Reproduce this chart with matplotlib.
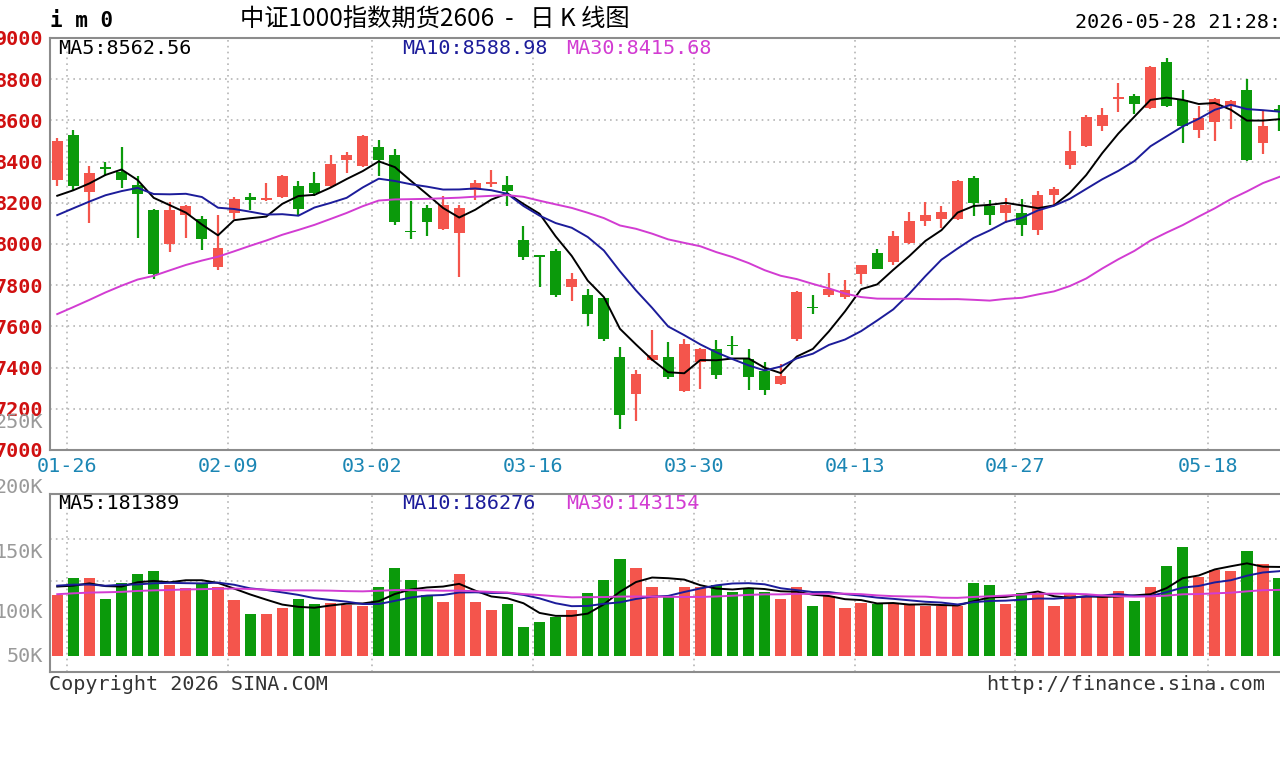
import matplotlib.pyplot as plt
import numpy as np
import pandas as pd

# daily K-line data, 78 trading days shown (01-26 .. 05-28)
opens = [8312, 8530, 8254, 8375, 8351, 8288, 8167, 7998, 8143, 8123,
         7886, 8152, 8230, 8215, 8230, 8283, 8298, 8283, 8409, 8380,
         8472, 8433, 8065, 8177, 8075, 8051, 8264, 8293, 8288, 8017,
         7949, 7964, 7789, 7750, 7736, 7450, 7271, 7436, 7450, 7286,
         7426, 7489, 7508, 7441, 7382, 7320, 7537, 7692, 7750, 7741,
         7852, 7954, 7915, 8007, 8114, 8119, 8119, 8322, 8186, 8152,
         8152, 8070, 8240, 8385, 8477, 8574, 8705, 8719, 8661, 8884,
         8700, 8554, 8593, 8671, 8748, 8491, 8656, 8622]
closes = [8501, 8283, 8346, 8366, 8312, 8245, 7852, 8167, 8186, 8022,
          7983, 8220, 8215, 8225, 8332, 8172, 8249, 8390, 8433, 8525,
          8409, 8109, 8056, 8109, 8191, 8177, 8298, 8303, 8259, 7935,
          7939, 7750, 7828, 7658, 7537, 7169, 7368, 7460, 7353, 7513,
          7489, 7363, 7503, 7353, 7290, 7358, 7765, 7687, 7780, 7775,
          7896, 7881, 8041, 8114, 8143, 8157, 8307, 8201, 8143, 8191,
          8094, 8240, 8269, 8453, 8617, 8627, 8714, 8680, 8860, 8671,
          8574, 8613, 8705, 8695, 8409, 8574, 8646, 8579]
highs = [8516, 8554, 8380, 8400, 8472, 8332, 8172, 8206, 8191, 8138,
         8143, 8230, 8249, 8298, 8336, 8307, 8351, 8433, 8448, 8530,
         8506, 8462, 8211, 8191, 8235, 8191, 8312, 8361, 8332, 8085,
         7949, 7975, 7857, 7780, 7740, 7499, 7387, 7581, 7523, 7537,
         7495, 7533, 7552, 7489, 7426, 7416, 7770, 7750, 7857, 7823,
         7900, 7978, 8065, 8157, 8206, 8186, 8312, 8332, 8215, 8225,
         8220, 8259, 8278, 8550, 8627, 8661, 8782, 8729, 8865, 8903,
         8748, 8671, 8710, 8700, 8801, 8646, 8676, 8630]
lows = [8283, 8264, 8104, 8332, 8274, 8031, 7828, 7959, 8031, 7973,
        7872, 8119, 8167, 8210, 8225, 8138, 8235, 8278, 8346, 8375,
        8332, 8094, 8022, 8041, 8070, 7838, 8215, 8278, 8186, 7920,
        7789, 7745, 7721, 7600, 7530, 7101, 7140, 7430, 7344, 7280,
        7295, 7344, 7460, 7290, 7266, 7315, 7530, 7658, 7745, 7731,
        7804, 7877, 7900, 8002, 8089, 8080, 8115, 8138, 8094, 8104,
        8041, 8046, 8186, 8366, 8470, 8550, 8642, 8632, 8655, 8665,
        8491, 8516, 8501, 8559, 8405, 8438, 8550, 8448]
volumes = [104, 119, 119, 101, 115, 123, 125, 113, 110, 115,
           111, 100, 87, 87, 93, 101, 96, 97, 95, 94,
           111, 128, 117, 104, 98, 123, 98, 91, 96, 76,
           80, 85, 91, 106, 117, 136, 128, 111, 103, 111,
           111, 113, 107, 109, 107, 101, 111, 94, 103, 93,
           97, 96, 96, 96, 94, 94, 94, 115, 113, 96,
           106, 106, 94, 106, 103, 103, 108, 99, 111, 130,
           147, 120, 126, 125, 143, 132, 119, 128]  # thousand lots

# estimated sessions before the window, only used for the moving averages
prior_closes = [7260, 7300, 7280, 7330, 7350, 7310, 7370, 7400, 7380, 7420,
                7440, 7410, 7460, 7490, 7470, 7510, 7530, 7560, 7540, 7580,
                7950, 8020, 8060, 8110, 8090, 8150, 8180, 8160, 8180]
prior_volumes = [95, 100, 92, 105, 98, 110, 102, 96, 108, 100,
                 94, 99, 105, 112, 101, 97, 103, 108, 100, 95,
                 110, 118, 112, 106, 120, 115, 109, 113, 117]

date_labels = ["01-26", "02-09", "03-02", "03-16", "03-30", "04-13", "04-27", "05-18"]
date_index = [0, 10, 19, 29, 39, 49, 59, 71]
price_ticks = [7000, 7200, 7400, 7600, 7800, 8000, 8200, 8400, 8600, 8800, 9000]

RED = "#f4554c"
GREEN = "#0b9a0b"
MA_COLORS = ["black", "#1c1c9a", "#d23cd2"]
MONO = "DejaVu Sans Mono"
CJK = ["Noto Sans CJK SC", "DejaVu Sans"]

n = len(closes)
x = np.arange(n)
up = np.array(closes) >= np.array(opens)
colors = np.where(up, RED, GREEN)

all_close = pd.Series(prior_closes + closes)
all_vol = pd.Series(prior_volumes + volumes)
price_ma = [all_close.rolling(w).mean().to_numpy()[-n:] for w in (5, 10, 30)]
vol_ma = [all_vol.rolling(w).mean().to_numpy()[-n:] for w in (5, 10, 30)]

W, H = 1280, 760
fig = plt.figure(figsize=(12.8, 7.6), dpi=100)


def px_axes(left, top, right, bottom):
    return fig.add_axes([left / W, 1 - bottom / H, (right - left) / W, (bottom - top) / H])


def style(ax):
    for s in ax.spines.values():
        s.set_color("#8c8c8c")
        s.set_linewidth(1.5)
    ax.tick_params(length=0)
    ax.set_xlim(-0.45, 77.3)
    for i in date_index:
        ax.axvline(i + 0.6, color="#b5b5b5", linestyle=(0, (1, 2.5)), linewidth=1.2, zorder=0)


# price panel
ax = px_axes(50, 38, 1300, 450)
style(ax)
ax.set_ylim(7000, 8985)
ax.set_yticks(price_ticks)
ax.set_yticklabels([str(t) for t in price_ticks], color="#d01010", fontsize=14.5,
                   family=MONO, fontweight="bold")
ax.tick_params(axis="y", pad=5)
for t in price_ticks[1:-1]:
    ax.axhline(t, color="#b5b5b5", linestyle=(0, (1, 2.5)), linewidth=1.2, zorder=0)
ax.set_xticks([i + 0.6 for i in date_index])
ax.set_xticklabels(date_labels, color="#1b86b4", fontsize=14.5, family=MONO)
ax.tick_params(axis="x", pad=5)

ax.vlines(x, lows, highs, colors=colors, linewidth=1.6, zorder=2)
body = np.abs(np.array(closes) - np.array(opens))
body = np.maximum(body, 6)
ax.bar(x, body, bottom=np.minimum(opens, closes), width=0.68, color=colors, zorder=2)
for ma, c in zip(price_ma, MA_COLORS):
    ax.plot(x, ma, color=c, linewidth=1.4, zorder=3)

for xp, txt, c in [(58, "MA5:8562.56", MA_COLORS[0]), (402, "MA10:8588.98", MA_COLORS[1]),
                   (566, "MA30:8415.68", MA_COLORS[2])]:
    fig.text(xp / W, 1 - 49 / H, txt, color=c, fontsize=14.5, family=MONO, va="center")

# volume panel
axv = px_axes(50, 494, 1300, 672)
style(axv)
axv.set_ylim(35.8, 193.7)
axv.set_yticks([])
axv.set_xticks([])
for g in (116.5, 153.8):
    axv.axhline(g, color="#b5b5b5", linestyle=(0, (1, 2.5)), linewidth=1.2, zorder=0)
vol = np.array(volumes)
axv.bar(x, vol - 50, bottom=50, width=0.7, color=colors, zorder=2)
for ma, c in zip(vol_ma, MA_COLORS):
    axv.plot(x, ma, color=c, linewidth=1.4, zorder=3)

for xp, txt, c in [(58, "MA5:181389", MA_COLORS[0]), (402, "MA10:186276", MA_COLORS[1]),
                   (566, "MA30:143154", MA_COLORS[2])]:
    fig.text(xp / W, 1 - 504 / H, txt, color=c, fontsize=14.5, family=MONO, va="center")

for yp, txt in [(423, "250K"), (487, "200K"), (552, "150K"), (613, "100K"), (657, "50K")]:
    fig.text(43 / W, 1 - yp / H, txt, color="#9a9a9a", fontsize=14.5, family=MONO,
             ha="right", va="center")

# header and footer
fig.text(50 / W, 1 - 21 / H, "i m 0", fontsize=15, family=MONO, fontweight="bold", va="center")
fig.text(240 / W, 1 - 20 / H, "中证1000指数期货2606  -   日 K 线图", fontsize=17.5, family=CJK,
         va="center")
fig.text(1075 / W, 1 - 23 / H, "2026-05-28 21:28:", fontsize=14.5, family=MONO, va="center")
fig.text(49 / W, 1 - 684 / H, "Copyright 2026 SINA.COM", fontsize=14.5, family=MONO,
         color="#333333", va="center")
fig.text(986 / W, 1 - 684 / H, "http://finance.sina.com", fontsize=14.5, family=MONO,
         color="#333333", va="center")

fig.savefig("out.png", dpi=100, facecolor="white")
